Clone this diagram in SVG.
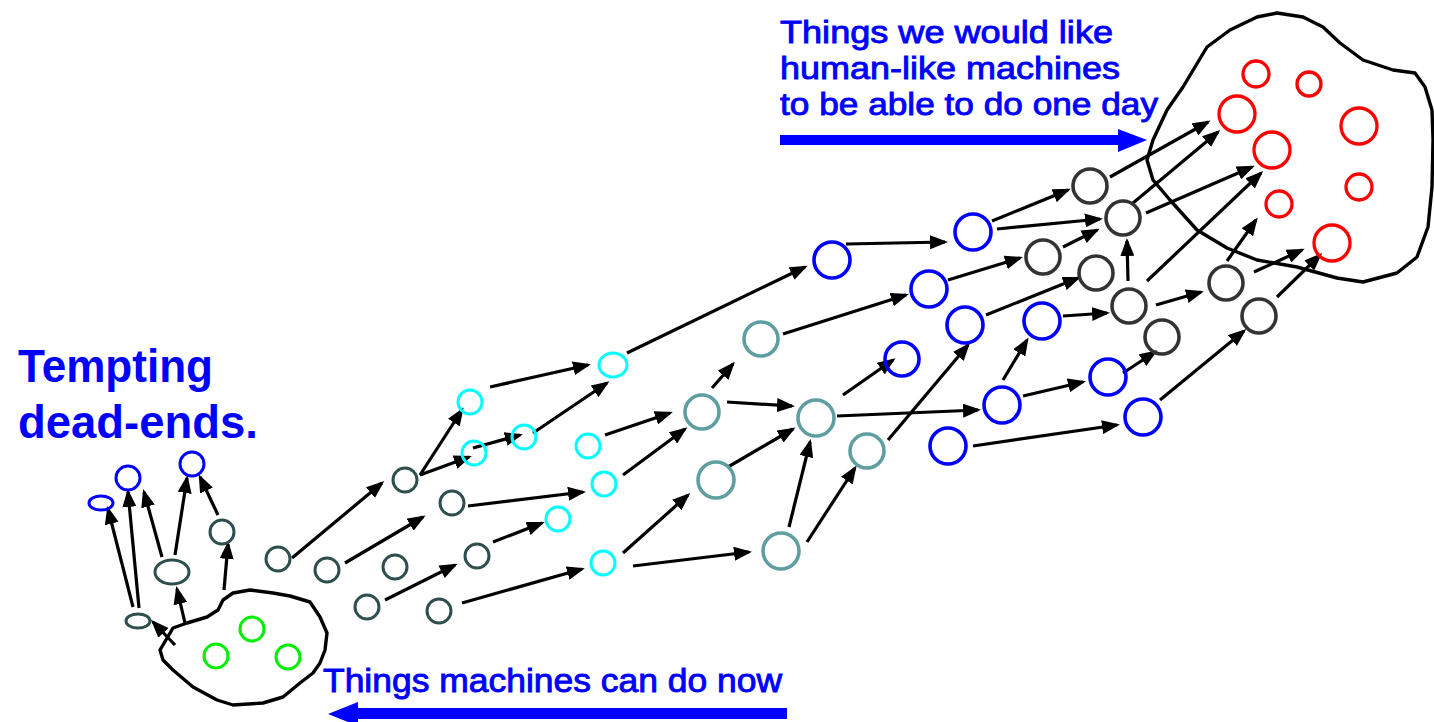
<svg xmlns="http://www.w3.org/2000/svg" width="1434" height="722" viewBox="0 0 1434 722">
<style>
.n{fill:none;stroke-width:3}
.big{stroke-width:3.6}
.g{stroke:#00ee00}
.sl{stroke:#2f4f4f}
.cy{stroke:#00ffff}
.te{stroke:#5f9ea0}
.bl{stroke:#0000ff}
.dk{stroke:#333333}
.rd{stroke:#ff0000;stroke-width:3.3}
.blob{fill:none;stroke:#000;stroke-width:3.4;stroke-linejoin:round}
.ed line{stroke:#000;stroke-width:3.2;marker-end:url(#ah)}
.t{fill:#0000ff;font-family:"Liberation Sans",Arial,sans-serif}
.tb{font-weight:bold;font-size:46px}
.tn{font-size:32px;stroke:#0000ff;stroke-width:0.9}
</style>
<defs>
<marker id="ah" markerUnits="userSpaceOnUse" markerWidth="18" markerHeight="14" refX="15" refY="7" orient="auto">
<path d="M0,0 L18,7 L0,14 z" fill="#000"/>
</marker>
</defs>
<rect width="1434" height="722" fill="#fff"/>

<g id="blob-now">
<polygon class="blob" points="160,650 173,628 187,623 207,617 218,610 223,600 233,593 250,590 273,593 290,596 310,602 320,617 327,633 325,650 320,663 313,673 300,683 283,697 263,703 233,705 217,700 193,687 173,670 163,660"/>
</g>
<g id="blob-future">
<polygon class="blob" points="1147,160 1153,140 1167,110 1183,87 1195,67 1207,47 1230,30 1257,17 1277,13 1303,17 1323,27 1340,43 1363,60 1393,70 1415,73 1425,87 1432,110 1433,140 1432,187 1428,227 1417,257 1397,273 1363,282 1337,278 1297,267 1257,260 1227,248 1197,230 1170,200 1153,180"/>
</g>

<g id="connectors" class="ed">
<line x1="175" y1="645" x2="153" y2="622"/>
<line x1="185" y1="623" x2="177" y2="589"/>
<line x1="224" y1="590" x2="228" y2="544"/>
<line x1="133" y1="607" x2="108" y2="509"/>
<line x1="139" y1="608" x2="128" y2="492"/>
<line x1="162" y1="557" x2="144" y2="492"/>
<line x1="175" y1="555" x2="187" y2="478"/>
<line x1="218" y1="515" x2="200" y2="477"/>
<line x1="292" y1="558" x2="382" y2="483"/>
<line x1="345" y1="563" x2="423" y2="517"/>
<line x1="385" y1="600" x2="455" y2="565"/>
<line x1="462" y1="603" x2="582" y2="569"/>
<line x1="420" y1="475" x2="462" y2="410"/>
<line x1="420" y1="475" x2="469" y2="457"/>
<line x1="473" y1="448" x2="520" y2="435"/>
<line x1="533" y1="433" x2="607" y2="383"/>
<line x1="490" y1="387" x2="588" y2="365"/>
<line x1="468" y1="506" x2="583" y2="492"/>
<line x1="493" y1="542" x2="542" y2="523"/>
<line x1="605" y1="435" x2="670" y2="413"/>
<line x1="623" y1="475" x2="685" y2="429"/>
<line x1="623" y1="553" x2="688" y2="495"/>
<line x1="633" y1="566" x2="749" y2="552"/>
<line x1="627" y1="353" x2="805" y2="267"/>
<line x1="712" y1="388" x2="733" y2="364"/>
<line x1="727" y1="402" x2="792" y2="406"/>
<line x1="728" y1="467" x2="793" y2="429"/>
<line x1="789" y1="527" x2="810" y2="442"/>
<line x1="807" y1="542" x2="855" y2="468"/>
<line x1="783" y1="334" x2="906" y2="295"/>
<line x1="846" y1="244" x2="945" y2="242"/>
<line x1="837" y1="416" x2="978" y2="410"/>
<line x1="843" y1="395" x2="893" y2="360"/>
<line x1="888" y1="440" x2="968" y2="345"/>
<line x1="973" y1="446" x2="1117" y2="425"/>
<line x1="948" y1="280" x2="1020" y2="258"/>
<line x1="986" y1="315" x2="1078" y2="278"/>
<line x1="992" y1="221" x2="1068" y2="190"/>
<line x1="997" y1="229" x2="1100" y2="219"/>
<line x1="1063" y1="247" x2="1097" y2="230"/>
<line x1="1128" y1="281" x2="1127" y2="241"/>
<line x1="1063" y1="316" x2="1107" y2="313"/>
<line x1="1003" y1="380" x2="1027" y2="340"/>
<line x1="1023" y1="396" x2="1083" y2="382"/>
<line x1="1123" y1="373" x2="1155" y2="352"/>
<line x1="1156" y1="305" x2="1201" y2="292"/>
<line x1="1160" y1="400" x2="1244" y2="331"/>
<line x1="1110" y1="177" x2="1208" y2="122"/>
<line x1="1133" y1="203" x2="1218" y2="132"/>
<line x1="1146" y1="213" x2="1252" y2="167"/>
<line x1="1147" y1="281" x2="1261" y2="173"/>
<line x1="1227" y1="261" x2="1256" y2="220"/>
<line x1="1254" y1="272" x2="1302" y2="250"/>
<line x1="1277" y1="297" x2="1320" y2="255"/>
</g>

<g id="now-nodes">
<circle class="n g" cx="252" cy="629" r="12"/>
<circle class="n g" cx="216" cy="656" r="12"/>
<circle class="n g" cx="288" cy="657" r="12"/>
</g>
<g id="dead-ends">
<ellipse class="n sl" cx="138" cy="621" rx="12" ry="7"/>
<ellipse class="n sl" cx="172" cy="572" rx="17" ry="12"/>
<circle class="n sl" cx="222" cy="532" r="12"/>
<ellipse class="n bl" cx="101" cy="503" rx="12" ry="7"/>
<circle class="n bl" cx="128" cy="478" r="12"/>
<circle class="n bl" cx="192" cy="464" r="12"/>
</g>
<g id="slate-nodes">
<circle class="n sl" cx="278" cy="559" r="12"/>
<circle class="n sl" cx="327" cy="570" r="12"/>
<circle class="n sl" cx="395" cy="567" r="12"/>
<circle class="n sl" cx="367" cy="607" r="12"/>
<circle class="n sl" cx="405" cy="480" r="12"/>
<circle class="n sl" cx="452" cy="503" r="12"/>
<circle class="n sl" cx="477" cy="556" r="12"/>
<circle class="n sl" cx="439" cy="611" r="12"/>
</g>
<g id="cyan-nodes">
<circle class="n cy" cx="470" cy="402" r="12"/>
<ellipse class="n cy" cx="613" cy="365" rx="14" ry="12"/>
<circle class="n cy" cx="474" cy="453" r="12"/>
<circle class="n cy" cx="524" cy="437" r="12"/>
<circle class="n cy" cx="588" cy="446" r="12"/>
<circle class="n cy" cx="604" cy="484" r="12"/>
<circle class="n cy" cx="558" cy="519" r="12"/>
<circle class="n cy" cx="603" cy="563" r="12"/>
</g>
<g id="teal-nodes">
<circle class="n big te" cx="761" cy="339" r="17"/>
<circle class="n big te" cx="702" cy="412" r="17"/>
<circle class="n big te" cx="716" cy="480" r="18"/>
<circle class="n big te" cx="816" cy="418" r="18"/>
<circle class="n big te" cx="781" cy="551" r="18"/>
<circle class="n big te" cx="867" cy="451" r="17"/>
</g>
<g id="blue-nodes">
<circle class="n big bl" cx="832" cy="260" r="18"/>
<circle class="n big bl" cx="973" cy="232" r="18"/>
<circle class="n big bl" cx="929" cy="289" r="18"/>
<circle class="n big bl" cx="965" cy="325" r="18"/>
<circle class="n big bl" cx="902" cy="359" r="17"/>
<circle class="n big bl" cx="1042" cy="321" r="18"/>
<circle class="n big bl" cx="1002" cy="405" r="18"/>
<circle class="n big bl" cx="948" cy="446" r="18"/>
<circle class="n big bl" cx="1108" cy="377" r="18"/>
<circle class="n big bl" cx="1143" cy="417" r="18"/>
</g>
<g id="dark-nodes">
<circle class="n big dk" cx="1090" cy="186" r="17"/>
<circle class="n big dk" cx="1123" cy="218" r="17"/>
<circle class="n big dk" cx="1043" cy="257" r="17"/>
<circle class="n big dk" cx="1096" cy="273" r="17"/>
<circle class="n big dk" cx="1129" cy="306" r="17"/>
<circle class="n big dk" cx="1162" cy="337" r="17"/>
<circle class="n big dk" cx="1226" cy="283" r="17"/>
<circle class="n big dk" cx="1259" cy="316" r="17"/>
</g>
<g id="future-nodes">
<circle class="n rd" cx="1256" cy="74" r="13"/>
<circle class="n rd" cx="1309" cy="84" r="12"/>
<circle class="n rd" cx="1237" cy="114" r="18"/>
<circle class="n rd" cx="1272" cy="150" r="18"/>
<circle class="n rd" cx="1359" cy="126" r="18"/>
<circle class="n rd" cx="1359" cy="187" r="13"/>
<circle class="n rd" cx="1279" cy="204" r="13"/>
<circle class="n rd" cx="1332" cy="243" r="18"/>
</g>

<g id="label-future">
<text class="t tn" x="780" y="43" textLength="333" lengthAdjust="spacingAndGlyphs">Things we would like</text>
<text class="t tn" x="780" y="79" textLength="340" lengthAdjust="spacingAndGlyphs">human-like machines</text>
<text class="t tn" x="780" y="115" textLength="378" lengthAdjust="spacingAndGlyphs">to be able to do one day</text>
<rect x="780" y="135" width="340" height="10" fill="#0000ff"/>
<polygon points="1118,129 1147,140 1118,152" fill="#0000ff"/>
</g>
<g id="label-dead">
<text class="t tb" x="18" y="382" textLength="195" lengthAdjust="spacingAndGlyphs">Tempting</text>
<text class="t tb" x="18" y="438" textLength="240" lengthAdjust="spacingAndGlyphs">dead-ends.</text>
</g>
<g id="label-now">
<text class="t tn" x="323" y="692" font-size="33" style="font-size:33px" textLength="459" lengthAdjust="spacingAndGlyphs">Things machines can do now</text>
<rect x="356" y="708" width="431" height="11" fill="#0000ff"/>
<polygon points="358,702 328,714 358,726" fill="#0000ff"/>
</g>
</svg>
